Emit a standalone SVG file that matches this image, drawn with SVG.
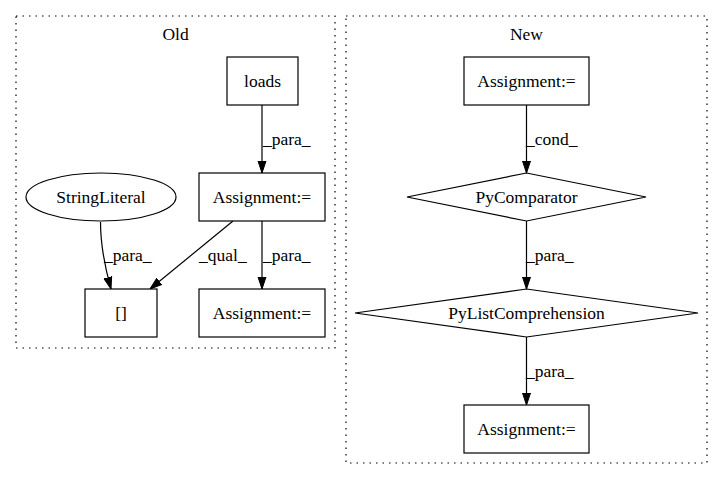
<svg xmlns="http://www.w3.org/2000/svg" width="723" height="480" viewBox="0 0 723 480" font-family="'Liberation Serif', 'DejaVu Serif', 'Times New Roman', serif">
<style>
text{font-family:"Liberation Serif","DejaVu Serif","Times New Roman",serif;font-size:17.5px;fill:#000}
.n{fill:#fff;stroke:#000;stroke-width:1.2}
.c{fill:none;stroke:#000;stroke-width:1.2;stroke-dasharray:1.5,5}
.e{fill:none;stroke:#000;stroke-width:1.2}
.m{text-anchor:middle}
</style>
<defs>
<marker id="a" viewBox="0 0 12 10" refX="12" refY="5" markerWidth="12" markerHeight="10" markerUnits="userSpaceOnUse" orient="auto">
<path d="M0,1 L12,5 L0,9 Z" fill="#000" stroke="#000"/>
</marker>
</defs>
<rect width="723" height="480" fill="#fff"/>
<g id="cluster_old">
<rect class="c" x="16" y="16" width="319" height="332"/>
<text class="m" x="175.5" y="40">Old</text>
</g>
<g id="cluster_new">
<rect class="c" x="346" y="16" width="361" height="447"/>
<text class="m" x="526.5" y="40">New</text>
</g>
<g id="edges">
<path class="e" d="M262,105 L262,173" marker-end="url(#a)"/>
<text x="263" y="145">_para_</text>
<path class="e" d="M100.5,222 C100.5,244 104,264 111,289" marker-end="url(#a)"/>
<text x="104" y="261">_para_</text>
<path class="e" d="M233,221 L150,289" marker-end="url(#a)"/>
<text x="199" y="261">_qual_</text>
<path class="e" d="M262,221 L262,289" marker-end="url(#a)"/>
<text x="263" y="261">_para_</text>
<path class="e" d="M526.5,105 L526.5,173" marker-end="url(#a)"/>
<text x="526" y="145">_cond_</text>
<path class="e" d="M526.5,221 L526.5,289" marker-end="url(#a)"/>
<text x="526" y="261">_para_</text>
<path class="e" d="M526.5,337 L526.5,405" marker-end="url(#a)"/>
<text x="526" y="377">_para_</text>
</g>
<g id="loads">
<rect class="n" x="227" y="57" width="71" height="48"/>
<text class="m" x="262.5" y="87">loads</text>
</g>
<g id="old_assign1">
<rect class="n" x="199" y="173" width="126" height="48"/>
<text class="m" x="262" y="203">Assignment:=</text>
</g>
<g id="stringliteral">
<ellipse class="n" cx="101" cy="197" rx="75" ry="24"/>
<text class="m" x="101" y="203">StringLiteral</text>
</g>
<g id="index">
<rect class="n" x="85" y="289" width="72" height="48"/>
<text class="m" x="121" y="319">[]</text>
</g>
<g id="old_assign2">
<rect class="n" x="199" y="289" width="126" height="48"/>
<text class="m" x="262" y="319">Assignment:=</text>
</g>
<g id="new_assign1">
<rect class="n" x="464" y="57" width="125" height="48"/>
<text class="m" x="526.5" y="87">Assignment:=</text>
</g>
<g id="pycomparator">
<polygon class="n" points="526.5,173 646,197 526.5,221 407,197"/>
<text class="m" x="526.5" y="203">PyComparator</text>
</g>
<g id="pylistcomp">
<polygon class="n" points="526.5,289 698,313 526.5,337 355,313"/>
<text class="m" x="526.5" y="319">PyListComprehension</text>
</g>
<g id="new_assign2">
<rect class="n" x="464" y="405" width="125" height="48"/>
<text class="m" x="526.5" y="435">Assignment:=</text>
</g>
</svg>
